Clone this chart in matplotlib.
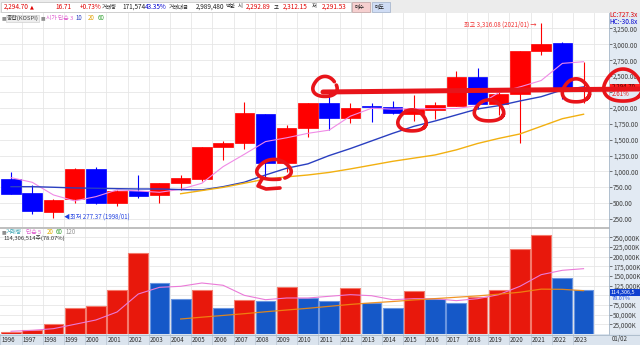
import numpy as np
import matplotlib.pyplot as plt
from matplotlib.patches import Rectangle
from matplotlib.transforms import blended_transform_factory

plt.rcParams['font.family'] = ['Liberation Sans Narrow', 'Noto Sans CJK KR', 'DejaVu Sans']

# yearly KOSPI candles
years = list(range(1996, 2024))
opens = [888, 657, 368, 563, 1035, 500, 694, 631, 815, 880, 1381, 1444, 1904, 1139, 1680,
         2082, 1836, 2030, 2019, 1904, 1967, 2035, 2481, 2057, 2214, 2895, 3016, 2293]
highs = [997, 788, 560, 1051, 1076, 710, 945, 820, 945, 1390, 1481, 2098, 1910, 1731, 2078,
         2231, 2082, 2082, 2113, 2203, 2092, 2580, 2632, 2252, 2900, 3330, 3031, 2726]
lows = [640, 332, 265, 500, 495, 458, 579, 510, 710, 850, 1181, 1349, 900, 997, 1538,
        1653, 1758, 1783, 1900, 1794, 1826, 2026, 1990, 1891, 1444, 2832, 2134, 2073]
closes = [647, 375, 552, 1035, 500, 694, 620, 815, 893, 1385, 1444, 1915, 1129, 1689, 2072,
          1836, 2004, 2012, 1925, 1978, 2046, 2481, 2057, 2214, 2895, 3000, 2290, 2295]

# moving averages on the price panel
ma3 = [903, 830, 631, 537, 604, 710, 694, 673, 720, 815, 1076, 1270, 1470, 1530, 1600,
       1650, 1870, 1994, 1980, 1988, 1988, 1990, 2035, 2240, 2330, 2430, 2700, 2726]
ma10 = [761, 761, 752, 741, 736, 730, 725, 725, 715, 710, 761, 831, 945, 1051, 1120,
        1250, 1360, 1480, 1600, 1710, 1794, 1889, 1983, 2035, 2109, 2176, 2282, 2330]
ma20_start = 2004
ma20 = [650, 700, 750, 815, 880, 915, 945, 985, 1040, 1100, 1160, 1210, 1260, 1340, 1440,
        1520, 1590, 1710, 1830, 1900]

# volume in thousand shares
volume = [5200, 9500, 26700, 67200, 72400, 114600, 208700, 131900, 90500, 114600, 67200,
          87900, 86200, 121500, 93100, 86200, 119000, 80200, 66400, 111200, 91300, 81000,
          95700, 114600, 219800, 256900, 144000, 114300]
vol_ma5 = [7000, 9500, 13800, 25000, 36200, 56900, 103400, 120700, 123300, 131900, 126000,
           100000, 88700, 93100, 93100, 97500, 101700, 99000, 88700, 91300, 91300, 86200,
           91300, 101700, 123300, 153400, 164700, 168900]
vol_ma20 = [38800, 43500, 48000, 52500, 57500, 62000, 66500, 71500, 76500, 80500, 84000,
            88000, 91500, 95000, 98500, 103000, 108000, 116000, 115500, 112000]

W, H = 640, 345
RED, BLUE = '#ff0000', '#0000ff'


def fr(x0, y0, x1, y1):
    return [x0 / W, 1 - y1 / H, (x1 - x0) / W, (y1 - y0) / H]


fig = plt.figure(figsize=(6.4, 3.45), dpi=100)
fig.patch.set_facecolor('white')

# background strips
fig.patches.append(Rectangle((0, 1 - 13 / H), 1, 13 / H, transform=fig.transFigure,
                             color='#ececec', zorder=-2))
fig.patches.append(Rectangle((609 / W, 0), 31 / W, 1 - 13 / H, transform=fig.transFigure,
                             color='#e2eaf3', zorder=-2))
fig.patches.append(Rectangle((0, 0), 1, 11 / H, transform=fig.transFigure,
                             color='#dbe4ee', zorder=-2))

x = np.arange(len(years))
ax = fig.add_axes(fr(0, 13, 609, 227))
av = fig.add_axes(fr(0, 229, 609, 334))

for a in (ax, av):
    a.set_xlim(-0.52, 28.2)
    a.set_xticks(x + 0.5)
    a.tick_params(axis='x', length=0, labelbottom=False)
    a.grid(True, color='#e6e6e6', lw=0.6)
    a.set_axisbelow(True)
    for s in a.spines.values():
        s.set_visible(False)
    a.yaxis.tick_right()
    a.tick_params(axis='y', length=2, width=0.5, pad=1, labelsize=4.6,
                  colors='#404040', direction='out')

# candles
up = [c >= o for o, c in zip(opens, closes)]
ccol = [RED if u else BLUE for u in up]
ax.vlines(x, lows, highs, colors=ccol, lw=0.8, zorder=2)
bottoms = [min(o, c) for o, c in zip(opens, closes)]
heights = [max(abs(c - o), 8) for o, c in zip(opens, closes)]
ax.bar(x, heights, bottom=bottoms, width=0.92, color=ccol, edgecolor=ccol, lw=0.5, zorder=3)
ax.plot(x, ma3, color='#f08ae6', lw=0.8, zorder=4)
ax.plot(x, ma10, color='#2a3fc0', lw=1.0, zorder=4)
x20 = np.arange(ma20_start - years[0], len(years))
ax.plot(x20, ma20, color='#f2b010', lw=1.0, zorder=4)

ax.set_ylim(127, 3492)
pt = np.arange(250, 3251, 250)
ax.set_yticks(pt)
# the 2,250 label sits under the current-price box
ax.set_yticklabels(['' if v == 2250 else f'{v:,.2f}' for v in pt])

# volume
vup = [True] + [v > p for p, v in zip(volume[:-1], volume[1:])]
vcol = ['#e8180c' if u else '#1558c8' for u in vup]
ecol = ['#f47a6c' if u else '#6a95e0' for u in vup]
av.bar(x, volume, width=0.93, color=vcol, edgecolor=ecol, lw=0.8, zorder=3)
av.plot(x, vol_ma5, color='#ea7ad8', lw=0.8, zorder=4)
av.plot(x20, vol_ma20, color='#f08a10', lw=0.9, alpha=0.9, zorder=4)
av.set_ylim(0, 271500)
vt = np.arange(25000, 250001, 25000)
av.set_yticks(vt)
av.set_yticklabels(['' if v == 100000 else f'{v:,}K' for v in vt])

# year labels in the bottom strip
tr = blended_transform_factory(av.transData, av.transAxes)
for i, yr in enumerate(years):
    av.text(i - 0.46, -0.055, str(yr), transform=tr, ha='left', va='center',
            fontsize=4.4, color='#303030', clip_on=False)
    av.plot([i - 0.5, i - 0.5], [-0.105, 0], transform=tr, color='#b8c4d0', lw=0.5,
            clip_on=False)

# overlay in pixel space for header, labels and the hand-drawn marks
ov = fig.add_axes([0, 0, 1, 1], zorder=10)
ov.set_xlim(0, W)
ov.set_ylim(H, 0)
ov.axis('off')
ov.patch.set_alpha(0)


def ptext(px, py, s, **kw):
    kw.setdefault('fontsize', 4.6)
    kw.setdefault('va', 'center')
    ov.text(px, py, s, zorder=11, clip_on=False, **kw)


ptext(612, 339.5, '01/02', fontsize=4.4, color='#303030')

ov.plot([0, 609], [227.8, 227.8], color='#b4b4b4', lw=1.2)
ov.plot([609, 609], [13, 334], color='#a8b8c8', lw=0.6)
ov.plot([0, 640], [334.5, 334.5], color='#a8b8c8', lw=0.6)

# header row
ov.add_patch(Rectangle((1, 1.5), 350, 10, facecolor='white', edgecolor='#c0c0c0', lw=0.5))
ov.add_patch(Rectangle((352, 1.5), 18, 10, facecolor='#f6cfcf', edgecolor='#c0a0a0', lw=0.5))
ov.add_patch(Rectangle((372, 1.5), 18, 10, facecolor='#cfdcf4', edgecolor='#a0b0c8', lw=0.5))
hy = 6.8
kr = 3.9
ptext(4, hy, '2,294.70', color='#e00000')
ptext(30, hy, '▲', color='#e00000', fontsize=3.6, family=['DejaVu Sans'])
ptext(55, hy, '16.71', color='#e00000')
ptext(80, hy, '+0.73%', color='#e00000')
ptext(102, hy, '거래량', color='#202020', fontsize=kr)
ptext(122, hy, '171,574', color='#202020')
ptext(145, hy, '43.35%', color='#0000d0')
ptext(168.5, hy, '거래대금', color='#202020', fontsize=kr)
ptext(196, hy, '2,989,480', color='#202020')
ptext(226, hy, '백만', color='#202020', fontsize=kr)
ptext(238, hy, '시', color='#202020', fontsize=kr)
ptext(246, hy, '2,292.89', color='#e00000')
ptext(274, hy, '고', color='#202020', fontsize=kr)
ptext(283, hy, '2,312.15', color='#e00000')
ptext(312, hy, '저', color='#202020', fontsize=kr)
ptext(322, hy, '2,291.53', color='#e00000')
ptext(355, hy, '매수', color='#202020', fontsize=kr)
ptext(375, hy, '매도', color='#202020', fontsize=kr)

# price panel legend
ptext(1.5, 18, '■', color='#909090', fontsize=3.5, family=['DejaVu Sans'])
ov.add_patch(Rectangle((6, 14.5), 33, 7, facecolor='#eeeeee', edgecolor='#c8c8c8', lw=0.4))
ptext(7, 18, '종합(KOSPI)', color='#404040', fontsize=4.2)
ptext(40.5, 18, '■', color='#909090', fontsize=3.5, family=['DejaVu Sans'])
ptext(46, 18, '시가 단순 3', color='#e060d0', fontsize=4.2)
ptext(76, 18, '10', color='#2a3fc0', fontsize=4.4)
ptext(88, 18, '20', color='#e0a000', fontsize=4.4)
ptext(98, 18, '60', color='#30a030', fontsize=4.4)

ptext(537, 24.5, '최고 3,316.08 (2021/01) →', color='#f03030', fontsize=4.4, ha='right')
ptext(64, 217, '◀최저 277.37 (1998/01)', color='#2040e0', fontsize=4.4,
      family=['Noto Sans CJK KR', 'DejaVu Sans'])

# volume panel legend
ptext(1.5, 232, '■', color='#909090', fontsize=3.5, family=['DejaVu Sans'])
ptext(6, 232, '거래량', color='#30a0b0', fontsize=4.2)
ptext(26, 232, '단순 5', color='#e060d0', fontsize=4.2)
ptext(47, 232, '20', color='#e0b000', fontsize=4.4)
ptext(56, 232, '60', color='#30a030', fontsize=4.4)
ptext(66, 232, '120', color='#909090', fontsize=4.4)
ptext(3, 238.5, '114,306,514주(78.07%)', color='#303030', fontsize=4.2)

# right axis extras
ptext(609, 15, 'LC:727.3x', color='#e00000')
ptext(609, 21.5, 'HC:-30.8x', color='#0000d0')
ov.add_patch(Rectangle((610, 83.5), 30, 6.5, facecolor='#ff2020', edgecolor='none'))
ptext(612, 86.8, '2,294.70', color='#400000', fontsize=4.4)
ptext(612, 93.6, '2.61%', color='#e02020', fontsize=4.4)
ov.add_patch(Rectangle((610, 289.2), 30, 6.3, facecolor='#1040d0', edgecolor='none'))
ptext(611, 292.4, '114,306,5', color='white', fontsize=4.0)
ptext(612, 298.7, '78.07%', color='#2050e0', fontsize=4.0)


# hand-drawn red marks
mark = '#e8141a'


def loop(cx, cy, rx, ry, t0=0.3, t1=2 * np.pi + 0.7):
    t = np.linspace(t0, t1, 80)
    wob = 1 + 0.06 * np.sin(3 * t)
    ov.plot(cx + rx * wob * np.cos(t), cy + ry * wob * np.sin(t),
            color=mark, lw=2.6, solid_capstyle='round', zorder=12)


ov.plot([323, 470, 640], [92, 90.5, 89], color=mark, lw=3.6, solid_capstyle='round', zorder=12)
loop(325, 87, 12, 10, t0=-0.2, t1=2 * np.pi - 0.6)
loop(274, 170, 17, 10, t0=1.2, t1=2 * np.pi + 0.9)
ov.plot([262, 258, 266, 280], [179, 186, 189, 188], color=mark, lw=2.6,
        solid_capstyle='round', zorder=12)
loop(412, 121, 14, 10.5)
loop(489, 111, 14.5, 10.5)
loop(576, 91, 13.5, 11.5)
loop(623, 86, 19, 16)

fig.savefig('out.png', dpi=100, facecolor='white')
